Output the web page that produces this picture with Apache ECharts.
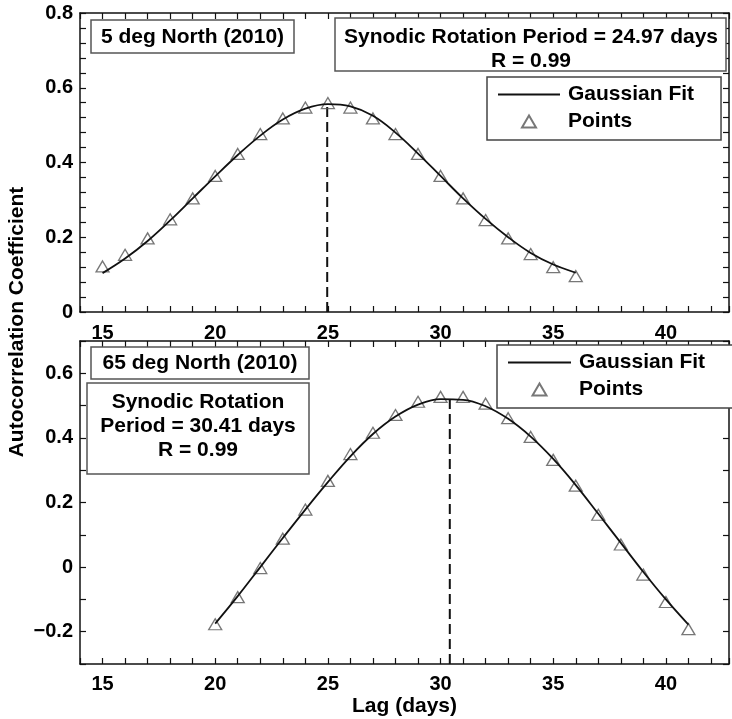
<!DOCTYPE html>
<html>
<head>
<meta charset="utf-8">
<script src="https://cdn.jsdelivr.net/npm/echarts@6/dist/echarts.min.js"></script>
<style>
    html, body { margin: 0; padding: 0; background: #fff; }
    #chart { width: 732px; height: 719px; }
</style>
</head>
<body>
<div id="chart"></div>
<script>
// top panel: 5 deg North (2010)
var lagTop = [15, 16, 17, 18, 19, 20, 21, 22, 23, 24, 25, 26, 27, 28, 29, 30, 31, 32, 33, 34, 35, 36];
var pointsTop = [0.122, 0.153, 0.197, 0.248, 0.304, 0.364, 0.423, 0.476, 0.518, 0.547, 0.559,
    0.547, 0.518, 0.476, 0.423, 0.364, 0.304, 0.246, 0.197, 0.155, 0.120, 0.096];
var fitTop = [0.104, 0.143, 0.190, 0.245, 0.304, 0.363, 0.420, 0.472, 0.515, 0.544, 0.556,
    0.550, 0.525, 0.480, 0.424, 0.364, 0.304, 0.249, 0.200, 0.158, 0.127, 0.105];
var periodTop = 24.97;
var peakTop = 0.556;

// bottom panel: 65 deg North (2010)
var lagBottom = [20, 21, 22, 23, 24, 25, 26, 27, 28, 29, 30, 31, 32, 33, 34, 35, 36, 37, 38, 39, 40, 41];
var pointsBottom = [-0.177, -0.093, -0.003, 0.088, 0.178, 0.267, 0.350, 0.416, 0.471, 0.512, 0.527,
    0.527, 0.506, 0.461, 0.403, 0.332, 0.252, 0.162, 0.070, -0.023, -0.108, -0.192];
var fitBottom = [-0.175, -0.090, 0.000, 0.090, 0.178, 0.263, 0.343, 0.412, 0.466, 0.503, 0.520,
    0.518, 0.498, 0.459, 0.404, 0.335, 0.254, 0.165, 0.075, -0.015, -0.100, -0.178];
var periodBottom = 30.41;
var peakBottom = 0.519;

var yTicksTop = [0, 0.2, 0.4, 0.6, 0.8];
var yTicksBottom = [-0.2, 0, 0.2, 0.4, 0.6];
var xTicks = [15, 20, 25, 30, 35, 40];

var FONT = "'Liberation Sans', Arial, sans-serif";
var INK = '#111';

var chart = echarts.init(document.getElementById('chart'), null, { renderer: 'canvas' });

function pairs(xs, ys) {
    return xs.map(function (x, i) { return [x, ys[i]]; });
}

function isIn(list, v) {
    for (var i = 0; i < list.length; i++) {
        if (Math.abs(list[i] - v) < 1e-6) return true;
    }
    return false;
}

function yFmt(list) {
    return function (v) {
        if (!isIn(list, v)) return '';
        if (Math.abs(v) < 1e-9) return '0';
        return (v < 0 ? '\u2212' : '') + Math.abs(v).toFixed(1);
    };
}

var tickStyle = { show: true, inside: true, length: 6, lineStyle: { color: INK, width: 1.2 } };
var lineStyle = { show: true, onZero: false, lineStyle: { color: INK, width: 1.5 } };
var labelStyle = { color: '#000', fontFamily: FONT, fontWeight: 'bold', fontSize: 20 };
var textStyle = { color: '#000', fontFamily: FONT, fontWeight: 'bold', fontSize: 21 };

function xAxes(gridIndex, margin, withName) {
    var bottom = {
        gridIndex: gridIndex, type: 'value', position: 'bottom',
        min: 14, max: 42.8, interval: 1,
        axisLine: lineStyle, axisTick: tickStyle, splitLine: { show: false },
        axisLabel: Object.assign({
            margin: margin, showMinLabel: true, showMaxLabel: true,
            formatter: function (v) { return isIn(xTicks, v) ? String(v) : ''; }
        }, labelStyle)
    };
    if (withName) {
        bottom.name = 'Lag (days)';
        bottom.nameLocation = 'middle';
        bottom.nameGap = 32;
        bottom.nameTextStyle = textStyle;
    }
    var top = {
        gridIndex: gridIndex, type: 'value', position: 'top',
        min: 14, max: 42.8, interval: 1,
        axisLine: lineStyle, axisTick: tickStyle, splitLine: { show: false },
        axisLabel: { show: false }
    };
    return [bottom, top];
}

function yAxes(gridIndex, min, max, step, labels) {
    var left = {
        gridIndex: gridIndex, type: 'value', position: 'left',
        min: min, max: max, interval: step,
        axisLine: lineStyle, axisTick: tickStyle, splitLine: { show: false },
        axisLabel: Object.assign({ margin: 7, formatter: yFmt(labels) }, labelStyle)
    };
    var right = {
        gridIndex: gridIndex, type: 'value', position: 'right',
        min: min, max: max, interval: step,
        axisLine: lineStyle, axisTick: tickStyle, splitLine: { show: false },
        axisLabel: { show: false }
    };
    return [left, right];
}

function fitSeries(idx, xs, ys) {
    return {
        name: 'Gaussian Fit', type: 'line', xAxisIndex: idx, yAxisIndex: idx,
        data: pairs(xs, ys), smooth: 0.4, symbol: 'none', z: 3,
        lineStyle: { color: INK, width: 1.8 }, itemStyle: { color: INK }
    };
}

function pointSeries(idx, xs, ys) {
    return {
        name: 'Points', type: 'scatter', xAxisIndex: idx, yAxisIndex: idx,
        data: pairs(xs, ys), symbol: 'triangle', symbolSize: [13, 11], z: 2,
        itemStyle: { color: 'rgba(255,255,255,0)', borderColor: '#555', borderWidth: 1.3 }
    };
}

function periodSeries(idx, x, yBase, yTop) {
    return {
        type: 'line', xAxisIndex: idx, yAxisIndex: idx,
        data: [[x, yBase], [x, yTop]], symbol: 'none', silent: true, z: 1,
        lineStyle: { color: INK, width: 2, type: [10, 5] }
    };
}

function legendAt(left, top, gap, pad, lineW) {
    return {
        left: left, top: top, orient: 'vertical',
        data: [
            { name: 'Gaussian Fit', icon: 'path://M0,0H' + lineW + 'V2H0Z' },
            { name: 'Points', icon: 'path://M7,0L14,12L0,12Z' }
        ],
        itemWidth: lineW, itemHeight: 12, itemGap: gap,
        symbolKeepAspect: true,
        padding: pad,
        borderColor: '#444', borderWidth: 1.5, backgroundColor: '#fff',
        textStyle: Object.assign({ padding: [0, 0, 0, 3] }, textStyle),
        selectedMode: false
    };
}

function box(x, y, w, h, text, cx, cy) {
    return {
        type: 'group',
        children: [
            { type: 'rect', shape: { x: x, y: y, width: w, height: h },
              style: { fill: '#fff', stroke: '#555', lineWidth: 1.5 }, z: 10 },
            { type: 'text', x: cx, y: cy, z: 11,
              style: { text: text, fill: '#000', font: 'bold 21px ' + FONT,
                       textAlign: 'center', textVerticalAlign: 'middle', lineHeight: 24 } }
        ]
    };
}

var option = {
    animation: false,
    backgroundColor: '#fff',
    grid: [
        { left: 80, top: 13, width: 650, height: 299 },
        { left: 80, top: 341, width: 650, height: 323 }
    ],
    xAxis: xAxes(0, 11, false).concat(xAxes(1, 10, true)),
    yAxis: yAxes(0, 0, 0.8, 0.04, yTicksTop).concat(yAxes(1, -0.3, 0.7, 0.1, yTicksBottom)),
    legend: [
        legendAt(487, 77, 6, [7, 27, 8, 11], 62),
        legendAt(497, 345, 6, [7, 60, 8, 11], 63)
    ],
    series: [
        fitSeries(0, lagTop, fitTop),
        pointSeries(0, lagTop, pointsTop),
        periodSeries(0, periodTop, 0, peakTop),
        // lower grid uses axes 2 (x bottom) and 2 (y left)
        fitSeries(2, lagBottom, fitBottom),
        pointSeries(2, lagBottom, pointsBottom),
        periodSeries(2, periodBottom, -0.3, peakBottom)
    ],
    graphic: [
        box(91, 20, 203, 33, '5 deg North (2010)', 192.5, 37),
        box(335, 18, 391, 53, 'Synodic Rotation Period = 24.97 days\nR = 0.99', 531, 49),
        box(91, 347, 218, 32, '65 deg North (2010)', 200, 363.5),
        box(87, 383, 222, 91, 'Synodic Rotation\nPeriod = 30.41 days\nR = 0.99', 198, 426),
        {
            type: 'text', x: 17, y: 322, rotation: Math.PI / 2,
            style: { text: 'Autocorrelation Coefficient', fill: '#000', font: 'bold 21px ' + FONT,
                     textAlign: 'center', textVerticalAlign: 'middle' }
        }
    ]
};

chart.setOption(option);
</script>
</body>
</html>
